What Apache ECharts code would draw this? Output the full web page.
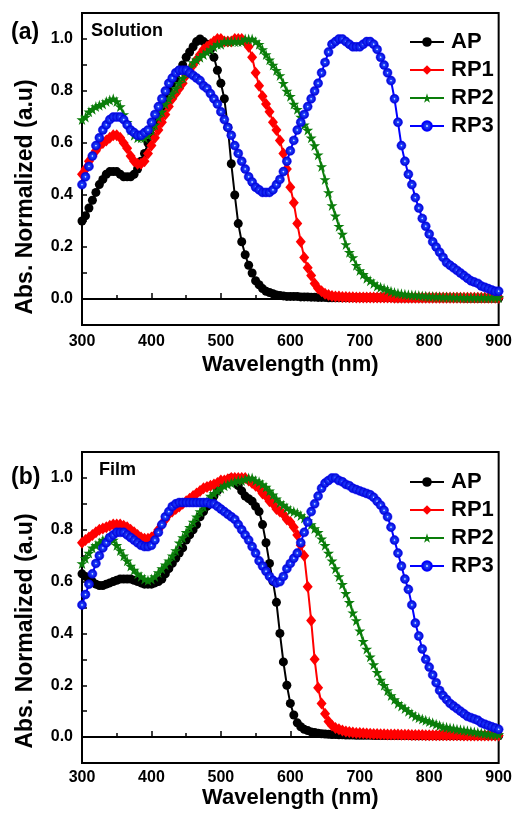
<!DOCTYPE html>
<html>
<head>
<meta charset="utf-8">
<script src="https://cdn.jsdelivr.net/npm/echarts@6/dist/echarts.min.js"></script>
<style>
  html, body { margin: 0; padding: 0; background: #fff; }
  #chart { width: 515px; height: 816px; }
</style>
</head>
<body>
<div id="chart"></div>
<script>
// wavelength grid, 300 -> 900 nm every 5 nm
var wl = [];
for (var w = 300; w <= 900; w += 5) wl.push(w);

var seriesNames = ['AP', 'RP1', 'RP2', 'RP3'];
var xTicks = [300, 400, 500, 600, 700, 800, 900];
var yTicks = [0.0, 0.2, 0.4, 0.6, 0.8, 1.0];

// (a) Solution
var solAP = [
  0.30, 0.32, 0.35, 0.38, 0.41, 0.44, 0.46, 0.48, 0.49, 0.49,
  0.49, 0.48, 0.47, 0.47, 0.47, 0.48, 0.50, 0.53, 0.56, 0.60,
  0.63, 0.67, 0.70, 0.74, 0.77, 0.80, 0.83, 0.85, 0.88, 0.90,
  0.93, 0.95, 0.97, 0.99, 1.00, 0.99, 0.98, 0.96, 0.93, 0.88,
  0.83, 0.77, 0.66, 0.52, 0.40, 0.29, 0.22, 0.17, 0.13, 0.10,
  0.07, 0.055, 0.04, 0.03, 0.025, 0.02, 0.015, 0.013, 0.012, 0.01,
  0.01, 0.01, 0.01, 0.008, 0.008, 0.008, 0.007, 0.007, 0.006, 0.006,
  0.006, 0.005, 0.005, 0.005, 0.005, 0.005, 0.005, 0.005, 0.005, 0.005,
  0.005, 0.005, 0.005, 0.005, 0.005, 0.005, 0.005, 0.005, 0.005, 0.005,
  0.004, 0.004, 0.004, 0.004, 0.004, 0.004, 0.004, 0.004, 0.004, 0.004,
  0.004, 0.004, 0.004, 0.004, 0.004, 0.004, 0.004, 0.004, 0.004, 0.004,
  0.003, 0.003, 0.003, 0.003, 0.003, 0.003, 0.003, 0.003, 0.003, 0.003,
  0.003
];
var solRP1 = [
  0.48, 0.50, 0.53, 0.55, 0.57, 0.59, 0.60, 0.61, 0.62, 0.63,
  0.63, 0.62, 0.60, 0.58, 0.55, 0.53, 0.52, 0.52, 0.53, 0.56,
  0.59, 0.62, 0.65, 0.68, 0.71, 0.74, 0.77, 0.79, 0.81, 0.83,
  0.86, 0.88, 0.90, 0.92, 0.94, 0.96, 0.97, 0.98, 0.99, 1.00,
  1.00, 0.99, 0.99, 0.99, 1.00, 1.00, 1.00, 0.99, 0.97, 0.93,
  0.87, 0.82, 0.78, 0.75, 0.72, 0.68, 0.65, 0.61, 0.56, 0.50,
  0.43, 0.37, 0.29, 0.22, 0.16, 0.12, 0.09, 0.06, 0.04, 0.03,
  0.02, 0.015, 0.012, 0.01, 0.01, 0.008, 0.008, 0.007, 0.007, 0.006,
  0.006, 0.006, 0.006, 0.006, 0.006, 0.006, 0.006, 0.006, 0.006, 0.006,
  0.005, 0.005, 0.005, 0.005, 0.005, 0.005, 0.005, 0.005, 0.005, 0.005,
  0.005, 0.005, 0.005, 0.005, 0.005, 0.005, 0.005, 0.005, 0.005, 0.005,
  0.005, 0.005, 0.005, 0.005, 0.005, 0.005, 0.005, 0.005, 0.005, 0.005,
  0.005
];
var solRP2 = [
  0.69, 0.70, 0.72, 0.73, 0.74, 0.745, 0.75, 0.76, 0.765, 0.77,
  0.76, 0.74, 0.71, 0.68, 0.65, 0.63, 0.62, 0.62, 0.62, 0.63,
  0.65, 0.67, 0.70, 0.72, 0.75, 0.77, 0.79, 0.81, 0.83, 0.85,
  0.87, 0.89, 0.91, 0.92, 0.93, 0.94, 0.95, 0.96, 0.97, 0.98,
  0.98, 0.99, 0.99, 0.99, 0.99, 0.99, 0.99, 1.00, 1.00, 1.00,
  0.99, 0.98, 0.96, 0.94, 0.92, 0.90, 0.88, 0.86, 0.83, 0.80,
  0.78, 0.75, 0.73, 0.70, 0.67, 0.65, 0.62, 0.59, 0.555, 0.51,
  0.46, 0.41, 0.36, 0.32, 0.28, 0.25, 0.21, 0.18, 0.16, 0.13,
  0.11, 0.095, 0.08, 0.07, 0.06, 0.05, 0.045, 0.04, 0.035, 0.03,
  0.025, 0.022, 0.02, 0.018, 0.016, 0.015, 0.014, 0.013, 0.012, 0.011,
  0.01, 0.01, 0.009, 0.009, 0.008, 0.008, 0.008, 0.007, 0.007, 0.007,
  0.006, 0.006, 0.006, 0.006, 0.006, 0.006, 0.006, 0.006, 0.006, 0.006,
  0.006
];
var solRP3 = [
  0.44, 0.47, 0.51, 0.55, 0.59, 0.62, 0.65, 0.67, 0.69, 0.70,
  0.70, 0.70, 0.69, 0.67, 0.65, 0.64, 0.63, 0.63, 0.64, 0.65,
  0.68, 0.71, 0.74, 0.77, 0.80, 0.83, 0.85, 0.87, 0.88, 0.88,
  0.88, 0.87, 0.86, 0.85, 0.84, 0.82, 0.81, 0.79, 0.77, 0.75,
  0.72, 0.69, 0.66, 0.63, 0.59, 0.56, 0.53, 0.50, 0.47, 0.45,
  0.43, 0.42, 0.41, 0.41, 0.41, 0.42, 0.44, 0.46, 0.49, 0.53,
  0.57, 0.61, 0.65, 0.68, 0.71, 0.74, 0.77, 0.80, 0.83, 0.87,
  0.91, 0.95, 0.98, 0.99, 1.00, 1.00, 0.99, 0.98, 0.97, 0.97,
  0.97, 0.98, 0.99, 0.99, 0.98, 0.96, 0.93, 0.90, 0.87, 0.84,
  0.77, 0.68, 0.59, 0.53, 0.48, 0.44, 0.39, 0.35, 0.31, 0.28,
  0.25, 0.22, 0.20, 0.18, 0.16, 0.14, 0.13, 0.12, 0.11, 0.10,
  0.09, 0.08, 0.07, 0.065, 0.06, 0.05, 0.045, 0.04, 0.035, 0.03,
  0.03
];

// (b) Film
var filmAP = [
  0.63, 0.62, 0.61, 0.60, 0.59, 0.585, 0.585, 0.59, 0.595, 0.60,
  0.605, 0.61, 0.61, 0.61, 0.61, 0.605, 0.60, 0.595, 0.59, 0.59,
  0.59, 0.595, 0.60, 0.61, 0.63, 0.65, 0.67, 0.69, 0.71, 0.73,
  0.76, 0.78, 0.80, 0.82, 0.85, 0.87, 0.89, 0.91, 0.93, 0.95,
  0.97, 0.98, 0.99, 1.00, 0.99, 0.97, 0.95, 0.93, 0.92, 0.91,
  0.89, 0.87, 0.82, 0.75, 0.67, 0.60, 0.52, 0.40, 0.29, 0.20,
  0.13, 0.085, 0.055, 0.04, 0.03, 0.025, 0.02, 0.018, 0.015, 0.013,
  0.012, 0.011, 0.01, 0.01, 0.009, 0.009, 0.008, 0.008, 0.008, 0.007,
  0.007, 0.007, 0.007, 0.007, 0.006, 0.006, 0.006, 0.006, 0.006, 0.006,
  0.006, 0.006, 0.006, 0.006, 0.006, 0.005, 0.005, 0.005, 0.005, 0.005,
  0.005, 0.005, 0.005, 0.005, 0.005, 0.005, 0.005, 0.005, 0.005, 0.005,
  0.005, 0.005, 0.005, 0.005, 0.005, 0.005, 0.005, 0.005, 0.005, 0.005,
  0.005
];
var filmRP1 = [
  0.75, 0.76, 0.77, 0.78, 0.79, 0.80, 0.805, 0.81, 0.815, 0.82,
  0.82, 0.82, 0.815, 0.81, 0.80, 0.79, 0.78, 0.77, 0.765, 0.765,
  0.77, 0.78, 0.80, 0.82, 0.84, 0.86, 0.87, 0.88, 0.89, 0.90,
  0.91, 0.92, 0.93, 0.94, 0.95, 0.96, 0.965, 0.97, 0.975, 0.98,
  0.99, 0.99, 0.995, 1.00, 1.00, 1.00, 1.00, 1.00, 0.99, 0.98,
  0.97, 0.96, 0.94, 0.93, 0.91, 0.90, 0.88, 0.87, 0.86, 0.84,
  0.83, 0.81, 0.78, 0.74, 0.70, 0.58, 0.45, 0.30, 0.19, 0.13,
  0.09, 0.06, 0.045, 0.035, 0.03, 0.025, 0.022, 0.02, 0.018, 0.016,
  0.016, 0.015, 0.014, 0.013, 0.012, 0.012, 0.011, 0.011, 0.01, 0.01,
  0.01, 0.01, 0.009, 0.009, 0.009, 0.008, 0.008, 0.008, 0.008, 0.007,
  0.007, 0.007, 0.007, 0.007, 0.007, 0.007, 0.007, 0.007, 0.007, 0.007,
  0.006, 0.006, 0.006, 0.006, 0.006, 0.006, 0.006, 0.006, 0.006, 0.006,
  0.006
];
var filmRP2 = [
  0.67, 0.69, 0.71, 0.73, 0.74, 0.75, 0.76, 0.765, 0.77, 0.76,
  0.74, 0.72, 0.70, 0.68, 0.66, 0.645, 0.63, 0.62, 0.61, 0.605,
  0.61, 0.62, 0.635, 0.65, 0.665, 0.68, 0.70, 0.72, 0.75, 0.77,
  0.79, 0.81, 0.83, 0.85, 0.87, 0.89, 0.91, 0.93, 0.94, 0.95,
  0.96, 0.97, 0.975, 0.98, 0.985, 0.99, 0.99, 0.995, 1.00, 1.00,
  0.99, 0.985, 0.975, 0.965, 0.95, 0.935, 0.92, 0.905, 0.895, 0.885,
  0.875, 0.87, 0.865, 0.855, 0.845, 0.835, 0.82, 0.805, 0.79, 0.765,
  0.74, 0.71, 0.68, 0.65, 0.62, 0.59, 0.555, 0.52, 0.48, 0.45,
  0.41, 0.37, 0.34, 0.31, 0.28, 0.25, 0.22, 0.20, 0.18, 0.16,
  0.145, 0.13, 0.12, 0.11, 0.10, 0.09, 0.08, 0.075, 0.07, 0.065,
  0.06, 0.055, 0.05, 0.045, 0.04, 0.038, 0.035, 0.033, 0.03, 0.028,
  0.026, 0.024, 0.022, 0.02, 0.018, 0.016, 0.014, 0.012, 0.011, 0.01,
  0.01
];
var filmRP3 = [
  0.51, 0.55, 0.59, 0.63, 0.67, 0.70, 0.73, 0.75, 0.77, 0.78,
  0.79, 0.79, 0.79, 0.78, 0.77, 0.76, 0.75, 0.74, 0.735, 0.735,
  0.74, 0.76, 0.79, 0.82, 0.85, 0.87, 0.89, 0.90, 0.905, 0.905,
  0.905, 0.905, 0.905, 0.905, 0.905, 0.905, 0.905, 0.90, 0.90, 0.89,
  0.88, 0.87, 0.86, 0.85, 0.84, 0.82, 0.80, 0.78, 0.76, 0.735,
  0.71, 0.68, 0.66, 0.64, 0.62, 0.605, 0.595, 0.60, 0.62, 0.65,
  0.67, 0.69, 0.71, 0.75, 0.79, 0.83, 0.87, 0.90, 0.93, 0.96,
  0.98, 0.99, 1.00, 1.00, 0.99, 0.985, 0.975, 0.97, 0.96, 0.955,
  0.95, 0.945, 0.94, 0.935, 0.925, 0.91, 0.895, 0.875, 0.85, 0.81,
  0.76, 0.71, 0.66, 0.61, 0.57, 0.51, 0.44, 0.39, 0.34, 0.30,
  0.27, 0.24, 0.21, 0.18, 0.16, 0.145, 0.13, 0.12, 0.11, 0.10,
  0.09, 0.08, 0.075, 0.07, 0.065, 0.055, 0.05, 0.045, 0.04, 0.035,
  0.03
];

var FONT = '"Liberation Sans", Arial, sans-serif';
var starPath = 'path://M50,0 L61,35 L98,35 L68,57 L79,91 L50,70 L21,91 L32,57 L2,35 L39,35 Z';
// blue ball with a small light centre, like the original markers
var ball = {
  type: 'radial', x: 0.5, y: 0.5, r: 0.5,
  colorStops: [
    { offset: 0, color: '#eef4ff' },
    { offset: 0.12, color: '#9db8ff' },
    { offset: 0.25, color: '#1c3cff' },
    { offset: 1, color: '#0000c8' }
  ]
};

var styles = {
  AP: { color: '#000000', symbol: 'circle', size: 9, fill: '#000000' },
  RP1: { color: '#ff0000', symbol: 'diamond', size: [10, 12], fill: '#ff0000' },
  RP2: { color: '#0a7d0a', symbol: starPath, size: 11, fill: '#0a7d0a' },
  RP3: { color: '#0000ff', symbol: 'circle', size: 9, fill: ball }
};

function pairs(vals) {
  return wl.map(function (x, i) { return [x, vals[i]]; });
}

function makeSeries(name, vals, idx) {
  var s = styles[name];
  return {
    name: name,
    type: 'line',
    xAxisIndex: idx,
    yAxisIndex: idx,
    data: pairs(vals),
    symbol: s.symbol,
    symbolSize: s.size,
    showAllSymbol: true,
    lineStyle: { color: s.color, width: 2 },
    itemStyle: { color: s.fill, borderColor: s.color, borderWidth: name === 'RP3' ? 0.5 : 0 },
    emphasis: { disabled: true },
    z: 2
  };
}

function xAxis(idx, labelMargin, gap) {
  return {
    type: 'value', gridIndex: idx, min: 300, max: 900, interval: 100,
    name: 'Wavelength (nm)', nameLocation: 'middle', nameGap: gap,
    nameTextStyle: { fontFamily: FONT, fontWeight: 'bold', fontSize: 22, color: '#000', verticalAlign: 'top' },
    axisLine: { lineStyle: { color: '#000', width: 2 } },
    axisTick: { inside: true, length: 6, lineStyle: { width: 1.5, color: '#000' } },
    minorTick: { show: true, splitNumber: 2, length: 4, lineStyle: { width: 1.5, color: '#000' } },
    axisLabel: {
      margin: labelMargin, fontFamily: FONT, fontWeight: 'bold', fontSize: 16, color: '#000',
      formatter: function (v) { return xTicks.indexOf(v) >= 0 ? String(v) : ''; }
    },
    splitLine: { show: false }
  };
}

function yAxis(idx) {
  return {
    type: 'value', gridIndex: idx, min: -0.1, max: 1.1, interval: 0.1,
    axisLine: { lineStyle: { color: '#000', width: 2 } },
    axisTick: { inside: true, length: 5, lineStyle: { width: 1.5, color: '#000' } },
    axisLabel: {
      margin: 9, fontFamily: FONT, fontWeight: 'bold', fontSize: 16, color: '#000',
      formatter: function (v) {
        var r = Math.round(v * 10) / 10;
        return yTicks.indexOf(r) >= 0 ? r.toFixed(1) : '';
      }
    },
    splitLine: { show: false }
  };
}

function legend(top) {
  return {
    data: seriesNames,
    orient: 'vertical',
    left: 409,
    top: top,
    padding: 0,
    itemGap: 6,
    itemWidth: 34,
    itemHeight: 12,
    textStyle: { fontFamily: FONT, fontWeight: 'bold', fontSize: 22, color: '#000', padding: [0, 0, 0, 2] }
  };
}

function label(text, x, y, size) {
  return {
    type: 'text', left: x, top: y,
    style: { text: text, fontFamily: FONT, fontWeight: 'bold', fontSize: size, fill: '#000' }
  };
}

function yTitle(cy) {
  return {
    type: 'text', x: 26, y: cy, rotation: Math.PI / 2,
    style: {
      text: 'Abs. Normalized (a.u)', fontFamily: FONT, fontWeight: 'bold', fontSize: 23,
      fill: '#000', align: 'center', verticalAlign: 'middle'
    }
  };
}

var chart = echarts.init(document.getElementById('chart'));
chart.setOption({
  animation: false,
  backgroundColor: '#fff',
  grid: [
    { left: 82, top: 13, width: 418, height: 312, show: true, borderColor: '#000', borderWidth: 2 },
    { left: 82, top: 452, width: 418, height: 311, show: true, borderColor: '#000', borderWidth: 2 }
  ],
  xAxis: [xAxis(0, 9, 29), xAxis(1, 7, 22)],
  yAxis: [yAxis(0), yAxis(1)],
  legend: [legend(31), legend(471)],
  graphic: [
    label('(a)', 11, 21, 23),
    label('Solution', 91, 22, 18),
    label('(b)', 11, 466, 23),
    label('Film', 99, 461, 18),
    yTitle(197),
    yTitle(631)
  ],
  series: [
    makeSeries('AP', solAP, 0),
    makeSeries('RP1', solRP1, 0),
    makeSeries('RP2', solRP2, 0),
    makeSeries('RP3', solRP3, 0),
    makeSeries('AP', filmAP, 1),
    makeSeries('RP1', filmRP1, 1),
    makeSeries('RP2', filmRP2, 1),
    makeSeries('RP3', filmRP3, 1)
  ]
});

window.addEventListener('resize', function () { chart.resize(); });
</script>
</body>
</html>
